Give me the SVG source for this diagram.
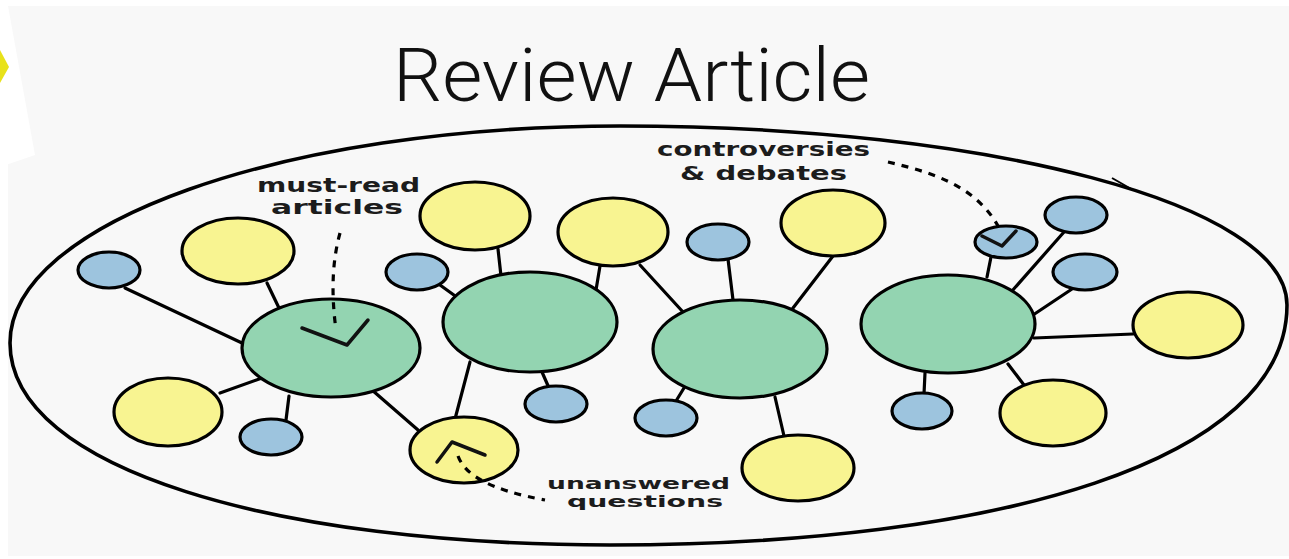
<svg xmlns="http://www.w3.org/2000/svg" width="1289" height="559" viewBox="0 0 1289 559">
<style>
.y{fill:#f8f491;stroke:#000;stroke-width:3.2}
.g{fill:#93d4b1;stroke:#000;stroke-width:3.2}
.b{fill:#9dc4de;stroke:#000;stroke-width:3.2}
.c line{stroke:#000;stroke-width:3.2;stroke-linecap:round}
.d{fill:none;stroke:#000;stroke-width:3.2;stroke-dasharray:7 7}
.mk{fill:none;stroke:#111;stroke-width:3.5;stroke-linecap:round;stroke-linejoin:round}
.lbl{font-family:"DejaVu Sans","Liberation Sans",sans-serif;font-weight:bold;fill:#1c1c1c}
</style>
<rect width="1289" height="559" fill="#ffffff"/>
<rect x="8" y="6" width="1281" height="550" fill="#f8f8f8"/>
<polygon points="0,0 8,0 8,6 35,155 0,167" fill="#ffffff"/>
<polygon points="0,50 9,67 0,83" fill="#e8e21a"/>

<text x="393" y="101" textLength="477" lengthAdjust="spacingAndGlyphs" font-family="Roboto,'Liberation Sans',sans-serif" font-weight="300" font-size="75" fill="#111">Review Article</text>

<path id="outline" d="M10,343 C10,223 283,126 620,126 C988,126 1287,204 1287,305 C1287,460 1000,545 610,545 C279,545 10,470 10,343 Z" fill="none" stroke="#000" stroke-width="3.6"/>
<path d="M1112,178 L1133,190" stroke="#000" stroke-width="2" fill="none"/>

<g id="connectors" class="c">
<line x1="125" y1="288" x2="242" y2="343"/>
<line x1="267" y1="283" x2="279" y2="308"/>
<line x1="220" y1="393" x2="262" y2="378"/>
<line x1="289" y1="396" x2="286" y2="420"/>
<line x1="372" y1="390" x2="418" y2="430"/>
<line x1="498" y1="249" x2="501" y2="276"/>
<line x1="440" y1="285" x2="458" y2="298"/>
<line x1="600" y1="266" x2="596" y2="290"/>
<line x1="542" y1="372" x2="549" y2="388"/>
<line x1="470" y1="362" x2="455" y2="419"/>
<line x1="640" y1="265" x2="683" y2="312"/>
<line x1="728" y1="259" x2="733" y2="300"/>
<line x1="833" y1="256" x2="793" y2="308"/>
<line x1="684" y1="388" x2="676" y2="401"/>
<line x1="775" y1="397" x2="784" y2="436"/>
<line x1="991" y1="257" x2="987" y2="277"/>
<line x1="1064" y1="232" x2="1012" y2="291"/>
<line x1="1072" y1="289" x2="1030" y2="317"/>
<line x1="1034" y1="338" x2="1133" y2="334"/>
<line x1="1008" y1="364" x2="1024" y2="385"/>
<line x1="925" y1="373" x2="924" y2="394"/>
</g>

<g id="n-g1"><ellipse class="g" cx="331" cy="348" rx="89" ry="49"/></g>
<g id="n-g2"><ellipse class="g" cx="530" cy="322" rx="87" ry="50"/></g>
<g id="n-g3"><ellipse class="g" cx="740" cy="349" rx="87" ry="49"/></g>
<g id="n-g4"><ellipse class="g" cx="948" cy="324" rx="87" ry="49"/></g>

<g id="n-y1"><ellipse class="y" cx="238" cy="251" rx="56" ry="33"/></g>
<g id="n-y2"><ellipse class="y" cx="168" cy="412" rx="54" ry="34"/></g>
<g id="n-y3"><ellipse class="y" cx="475" cy="216" rx="55" ry="34"/></g>
<g id="n-y4"><ellipse class="y" cx="613" cy="232" rx="55" ry="34"/></g>
<g id="n-y5"><ellipse class="y" cx="833" cy="223" rx="52" ry="33"/></g>
<g id="n-y6"><ellipse class="y" cx="464" cy="450" rx="54" ry="33"/></g>
<g id="n-y7"><ellipse class="y" cx="798" cy="468" rx="56" ry="33"/></g>
<g id="n-y8"><ellipse class="y" cx="1188" cy="325" rx="55" ry="33"/></g>
<g id="n-y9"><ellipse class="y" cx="1053" cy="413" rx="53" ry="33"/></g>

<g id="n-b1"><ellipse class="b" cx="109" cy="270" rx="31" ry="18"/></g>
<g id="n-b2"><ellipse class="b" cx="271" cy="437" rx="31" ry="18"/></g>
<g id="n-b3"><ellipse class="b" cx="417" cy="272" rx="31" ry="18"/></g>
<g id="n-b4"><ellipse class="b" cx="556" cy="404" rx="31" ry="18"/></g>
<g id="n-b5"><ellipse class="b" cx="666" cy="418" rx="31" ry="18"/></g>
<g id="n-b6"><ellipse class="b" cx="718" cy="242" rx="31" ry="18"/></g>
<g id="n-b7"><ellipse class="b" cx="1006" cy="242" rx="31" ry="16"/></g>
<g id="n-b8"><ellipse class="b" cx="922" cy="411" rx="30" ry="18"/></g>
<g id="n-b9"><ellipse class="b" cx="1076" cy="215" rx="31" ry="18"/></g>
<g id="n-b10"><ellipse class="b" cx="1085" cy="272" rx="32" ry="18"/></g>

<g id="ann-must-read">
<text class="lbl" x="257" y="192" font-size="19" textLength="163" lengthAdjust="spacingAndGlyphs">must-read</text>
<text class="lbl" x="271" y="214" font-size="19" textLength="132" lengthAdjust="spacingAndGlyphs">articles</text>
<path class="d" d="M340,233 C334,255 330,285 336,330"/>
<polyline class="mk" points="302,328 347,345 368,320"/>
</g>

<g id="ann-controversies">
<text class="lbl" x="657" y="156" font-size="20" textLength="213" lengthAdjust="spacingAndGlyphs">controversies</text>
<text class="lbl" x="680" y="180" font-size="20" textLength="167" lengthAdjust="spacingAndGlyphs">&amp; debates</text>
<path class="d" d="M888,162 C930,172 975,185 998,226"/>
<polyline class="mk" points="982,236 1002,246 1016,231"/>
</g>

<g id="ann-unanswered">
<text class="lbl" x="547" y="489" font-size="16" textLength="183" lengthAdjust="spacingAndGlyphs">unanswered</text>
<text class="lbl" x="567" y="507" font-size="16" textLength="156" lengthAdjust="spacingAndGlyphs">questions</text>
<path class="d" d="M458,456 C465,475 490,490 545,500"/>
<polyline class="mk" points="437,462 452,442 485,455"/>
</g>
</svg>
